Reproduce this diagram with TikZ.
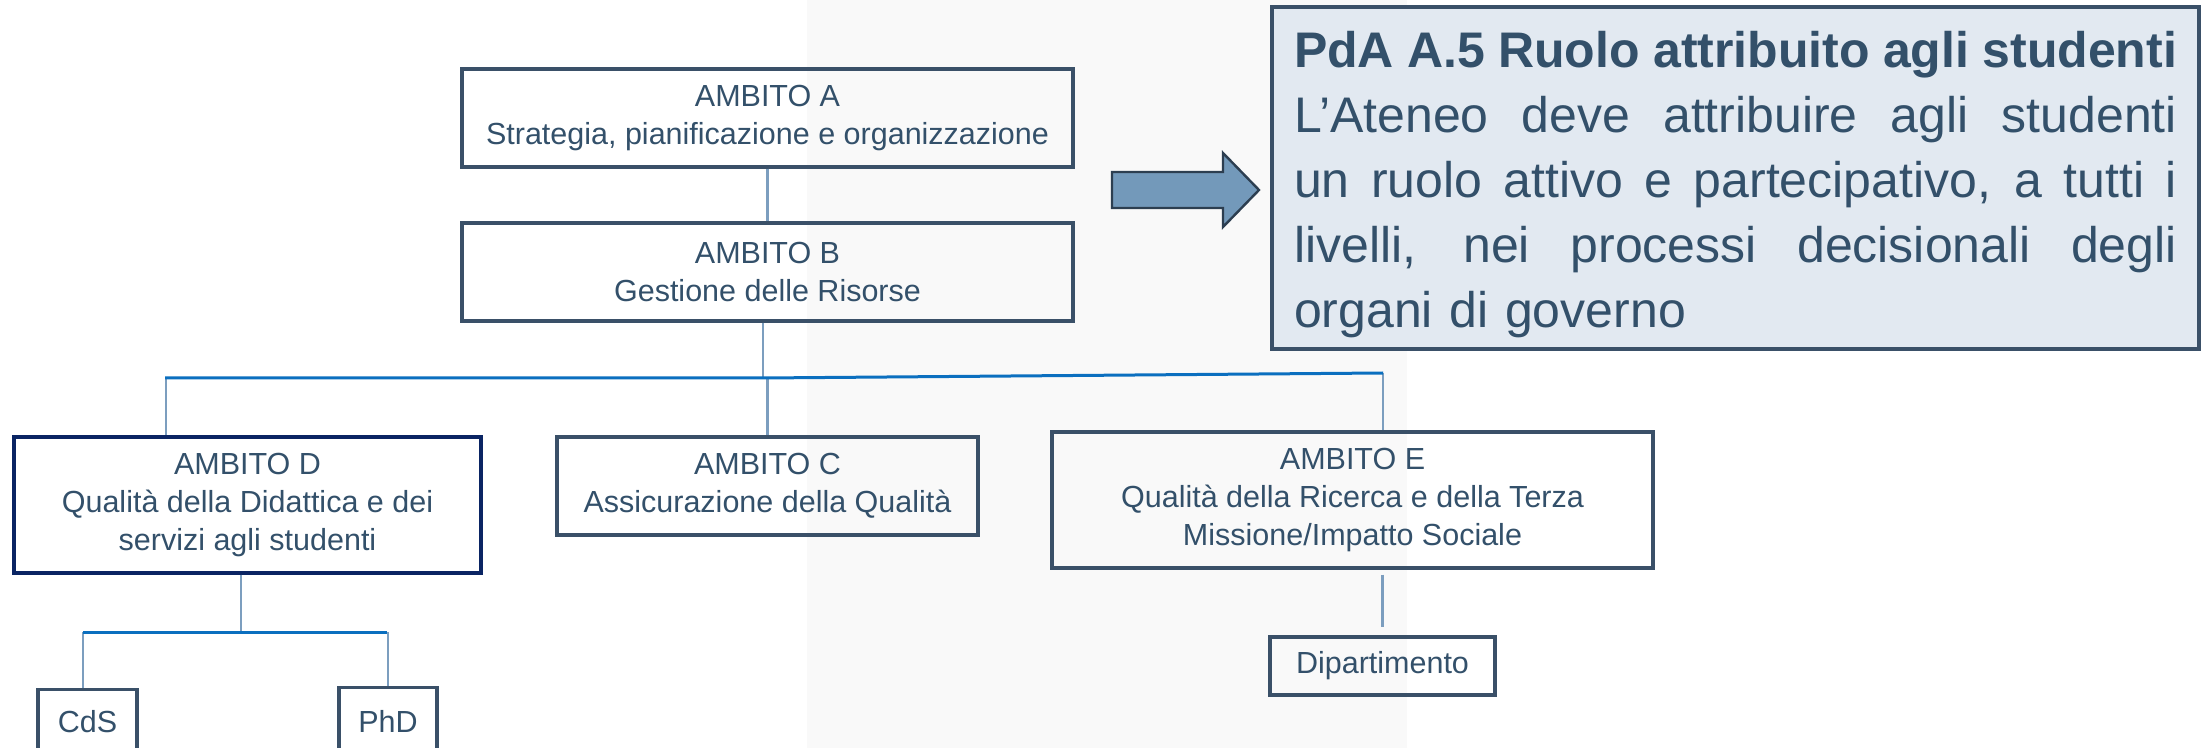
\documentclass[tikz,border=0pt]{standalone}
\usepackage{fontspec}
\setmainfont{Liberation Sans}
\definecolor{txt}{HTML}{33506A}
\definecolor{bord}{HTML}{3A5068}
\definecolor{navy}{HTML}{0A2463}
\definecolor{conncol}{HTML}{7C9EBF}
\definecolor{buscol}{HTML}{0B6FBF}
\definecolor{arrfill}{HTML}{7399BA}
\definecolor{arrdraw}{HTML}{2C3E50}
\definecolor{pdafill}{HTML}{E2E9F1}
\definecolor{bgband}{RGB}{249,249,249}
\newcommand{\jline}[1]{\makebox[441.5pt][s]{\spaceskip=0pt\relax\xspaceskip=0pt\relax #1}}
\begin{document}
\begin{tikzpicture}[x=0.5pt,y=-0.5pt,
  box/.style={draw=bord, line width=1.6pt, inner sep=0pt, align=center, text=txt,
    font=\fontsize{15.25}{19}\selectfont},
  conn/.style={draw=conncol, line width=1.3pt},
  bus/.style={draw=buscol, line width=1.5pt},
  pdabox/.style={draw=bord, line width=1.6pt, fill=pdafill, inner sep=0pt},
  pdatext/.style={inner sep=0pt, text=txt,
    font=\fontsize{25}{32.5}\selectfont, text width=441.5pt, align=left}]
\useasboundingbox (0,0) rectangle (2206,748);
\clip (0,0) rectangle (2206,748);
\fill[bgband] (807,0) rectangle (1407,748);

% boxes
\node[box, minimum width=305.5pt, minimum height=49pt] (A) at (767.5,118)
  {AMBITO A\\Strategia, pianificazione e organizzazione};
\node[box, minimum width=305.5pt, minimum height=49pt] (B) at (767.5,272)
  {AMBITO B\\Gestione delle Risorse};
\node[box, draw=navy, minimum width=233.5pt, minimum height=68pt] (D) at (247.5,505)
  {AMBITO D\\Qualità della Didattica e dei\\servizi agli studenti};
\node[box, minimum width=210.5pt, minimum height=49pt] (C) at (767.5,486)
  {AMBITO C\\Assicurazione della Qualità};
\node[box, minimum width=300.5pt, minimum height=68pt] (E) at (1352.5,500)
  {AMBITO E\\Qualità della Ricerca e della Terza\\Missione/Impatto Sociale};
\node[box, minimum width=49.5pt, minimum height=32.5pt] (CdS) at (87.5,722) {CdS};
\node[box, minimum width=49pt, minimum height=33.5pt] (PhD) at (388,721) {PhD};
\node[box, minimum width=112.5pt, minimum height=29pt] (Dip) at (1382.5,666) {Dipartimento};

% PdA box
\node[pdabox, minimum width=463.5pt, minimum height=171pt] (P) at (1735.5,178) {};
\node[pdatext] (Pt) at ([yshift=-3.5pt]P.center)
  {\textbf{\jline{PdA A.5 Ruolo attribuito agli studenti}}\\
   \jline{L’Ateneo deve attribuire agli studenti}\\
   \jline{un ruolo attivo e partecipativo, a tutti i}\\
   \jline{livelli, nei processi decisionali degli}\\
   organi di governo};

% big arrow
\filldraw[fill=arrfill, draw=arrdraw, line width=1.2pt, line join=miter]
  (1112,172) -- (1223,172) -- (1223,153) -- (1259,190) -- (1223,227)
  -- (1223,208) -- (1112,208) -- cycle;

% connectors
\coordinate (busL) at (165,378);
\coordinate (busM) at (763,378);
\coordinate (busR) at (1383,373);
\coordinate (dJ) at (241,632);
\coordinate (subL) at (83,632);
\coordinate (subR) at (387,632);

\draw[conn] (A.south) -- (B.north);
\draw[conn] (B.south -| busM) -- (busM);
\draw[conn] ([xshift=0.5pt]busL) -- ([xshift=0.5pt]busL |- D.north);
\draw[conn] (C.north |- busM) -- (C.north);
\draw[conn] (busR) -- (busR |- E.north);
\draw[bus] (busL) -- (busM) -- (busR);

\draw[conn] (D.south -| dJ) -- (dJ);
\draw[conn] (subL) -- (subL |- CdS.north);
\draw[conn] (PhD.north |- subR) -- (PhD.north);
\draw[bus] (subL) -- (subR);

\draw[conn] ([yshift=-2.5pt]E.south -| Dip.north) -- ([yshift=4pt]Dip.north);
\end{tikzpicture}
\end{document}
